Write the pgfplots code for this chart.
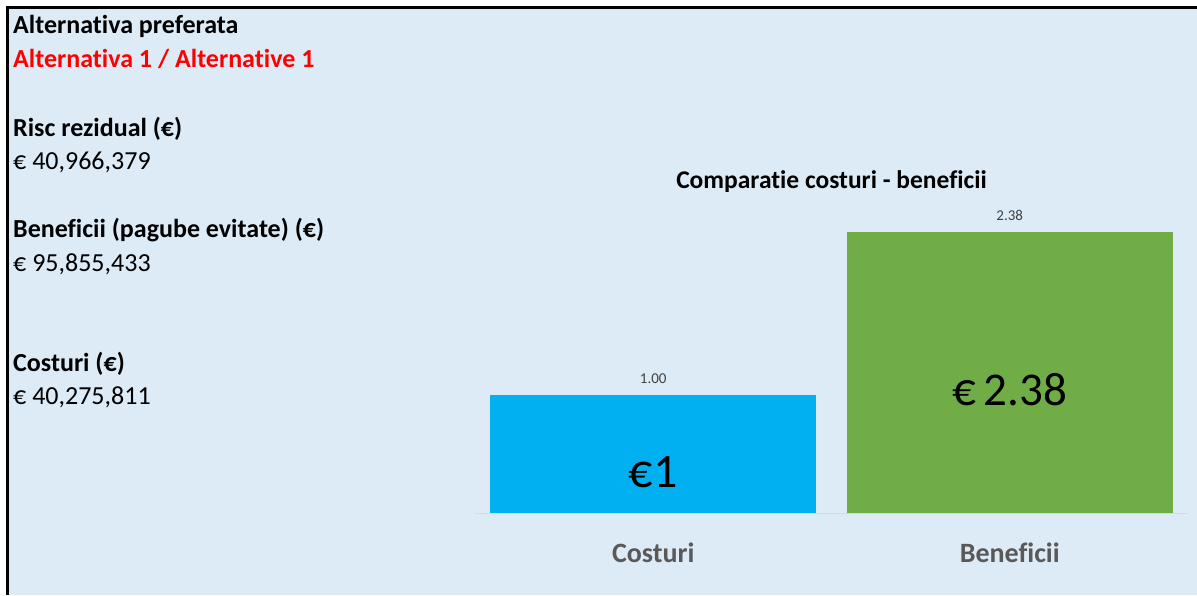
\documentclass[border=0pt]{standalone}
\usepackage{fontspec}
\setmainfont{Carlito}[Ligatures=NoCommon]
\usepackage{pgfplots}
\pgfplotsset{compat=1.18}
\definecolor{bgblue}{RGB}{221,235,247}
\definecolor{barblue}{RGB}{0,176,240}
\definecolor{bargreen}{RGB}{112,173,71}
\definecolor{labgray}{RGB}{89,89,89}
\definecolor{datgray}{RGB}{64,64,64}
\definecolor{axgray}{RGB}{217,217,217}
\begin{document}
\begin{tikzpicture}
\useasboundingbox (0pt,0pt) rectangle (1197pt,595pt);
\fill[white] (0pt,0pt) rectangle (1197pt,595pt);
\fill[bgblue] (9pt,0pt) rectangle (1197pt,586pt);
\draw[black,line width=3pt] (7.5pt,0pt) -- (7.5pt,587.5pt) -- (1197pt,587.5pt);
\tikzset{lt/.style={anchor=base west,inner sep=0pt,font=\fontsize{26}{30}\selectfont}}
\node[lt,font=\fontsize{26}{30}\selectfont\bfseries] at (13pt,561pt) {Alternativa preferata};
\node[lt,font=\fontsize{26}{30}\selectfont\bfseries,text=red] at (13pt,527pt) {Alternativa 1 / Alternative 1};
\node[lt,font=\fontsize{26}{30}\selectfont\bfseries] at (13pt,458pt) {Risc rezidual (€)};
\node[lt] at (13pt,425pt) {€ 40,966,379};
\node[lt,font=\fontsize{26}{30}\selectfont\bfseries] at (13pt,357pt) {Beneficii (pagube evitate) (€)};
\node[lt] at (13pt,323pt) {€ 95,855,433};
\node[lt,font=\fontsize{26}{30}\selectfont\bfseries] at (13pt,223pt) {Costuri (€)};
\node[lt] at (13pt,190pt) {€ 40,275,811};
\node[anchor=base,inner sep=0pt,font=\fontsize{25.5}{30}\selectfont\bfseries] at (831.5pt,406pt) {Comparatie costuri - beneficii};
\begin{axis}[
  at={(475pt,82pt)}, anchor=south west,
  scale only axis, width=713pt, height=306.8pt,
  xmin=-0.5, xmax=1.5, ymin=0, ymax=2.6,
  axis y line=none,
  axis x line*=bottom,
  x axis line style={draw=axgray,line width=1pt,-},
  xtick={0,1}, xticklabels={Costuri,Beneficii},
  xtick style={draw=none},
  xticklabel style={anchor=base,yshift=-45pt,font=\fontsize{28}{32}\selectfont\bfseries,text=labgray},
  ybar, bar width=326pt,
  clip=false,
  nodes near coords={\pgfmathprintnumber[fixed,fixed zerofill,precision=2,assume math mode=true]{\pgfplotspointmeta}},
  every node near coord/.append style={anchor=base,yshift=12pt,font=\fontsize{15}{18}\selectfont,text=datgray},
]
\addplot[draw=none,fill=barblue,bar shift=0pt] coordinates {(0,1.00)};
\addplot[draw=none,fill=bargreen,bar shift=0pt] coordinates {(1,2.38)};
\node[anchor=base,font=\fontsize{48}{56}\selectfont] at (axis cs:0,0.22) {€1};
\node[anchor=base,font=\fontsize{47}{56}\selectfont] at (axis cs:1,0.91) {€\,2.38};
\end{axis}
\end{tikzpicture}
\end{document}
